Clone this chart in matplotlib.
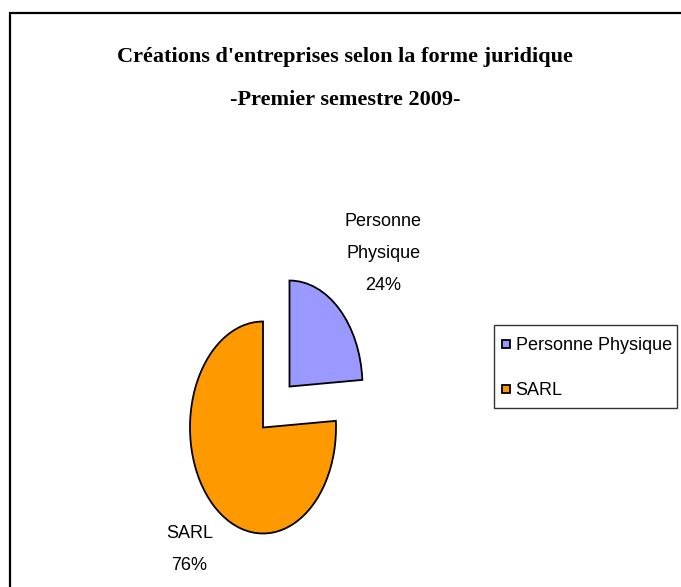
import matplotlib
matplotlib.use('Agg')
import matplotlib.pyplot as plt
import matplotlib.font_manager as fm
from matplotlib.patches import Rectangle, Wedge
from matplotlib.legend_handler import HandlerPatch
import numpy as np

# ── données ──
categories = ["Personne Physique", "SARL"]
label_names = ["Personne\nPhysique", "SARL"]
values = [24, 76]
colors = ["#9999FF", "#FF9900"]
title_lines = ["Créations d'entreprises selon la forme juridique",
               "-Premier semestre 2009-"]

# police étroite si dispo (le graphique d'origine est compressé en largeur)
names = {f.name for f in fm.fontManager.ttflist}
if 'Liberation Sans Narrow' in names:
    SANS, FS = 'Liberation Sans Narrow', 15.5
else:
    SANS, FS = 'Liberation Sans', 13
SERIF = 'Liberation Serif'

W, H = 681, 587
fig = plt.figure(figsize=(W / 100, H / 100), dpi=100, facecolor='white')

# centre du camembert (pixels) et rayons x / y
cx, cy, rx, ry = 263, 427.5, 73, 106
ax = fig.add_axes([0, 0, 1, 1])
wedges, _ = ax.pie(values, colors=colors, startangle=90, counterclock=False,
                   explode=[0.53, 0],
                   wedgeprops=dict(edgecolor='black', linewidth=1.3))
ax.set_aspect('auto')
ax.set_xlim(-cx / rx, (W - cx) / rx)
ax.set_ylim(-(H - cy) / ry, cy / ry)
ax.axis('off')

# étiquettes nom + pourcentage (distance radiale + petit décalage en pixels)
dist = [1.72, 1.575]
nudge_px = [8, 5]
for w, name, v, d, nx in zip(wedges, label_names, values, dist, nudge_px):
    th = np.deg2rad((w.theta1 + w.theta2) / 2)
    x = w.center[0] + d * w.r * np.cos(th)
    y = w.center[1] + d * w.r * np.sin(th)
    ax.annotate(f"{name}\n{v}%", (x, y), xytext=(nx, 0), textcoords='offset pixels',
                ha='center', va='center', multialignment='center',
                family=SANS, fontsize=FS, linespacing=2.15, color='black')

# titre
fig.text(345 / W, 1 - 57 / H, title_lines[0], ha='center', va='center',
         family=SERIF, fontweight='bold', fontsize=16)
fig.text(345 / W, 1 - 100 / H, title_lines[1], ha='center', va='center',
         family=SERIF, fontweight='bold', fontsize=16)


# petit carré dans une case de légende haute
def small_square(legend, orig_handle, xdescent, ydescent, width, height, fontsize):
    s = 0.42 * fontsize
    return Rectangle((-xdescent + 0.15 * fontsize, -ydescent + (height - s) / 2), s, s)


leg = fig.legend(wedges, categories, loc='upper left',
                 bbox_to_anchor=(494 / W, 1 - 325 / H), bbox_transform=fig.transFigure,
                 borderaxespad=0, fancybox=False, frameon=True, edgecolor='black',
                 prop=dict(family=SANS, size=FS), handlelength=0.6, handleheight=1.95,
                 handletextpad=0.3, labelspacing=0.97, borderpad=0.3,
                 handler_map={Wedge: HandlerPatch(patch_func=small_square)})
leg.get_frame().set_linewidth(1.0)

# cadre (coupé à droite et en bas)
fig.add_artist(Rectangle((9.5 / W, -0.2), 1.5, 1.2 - 13 / H, transform=fig.transFigure,
                         fill=False, edgecolor='black', linewidth=1.6))

fig.savefig('out.png', dpi=100, facecolor='white')
